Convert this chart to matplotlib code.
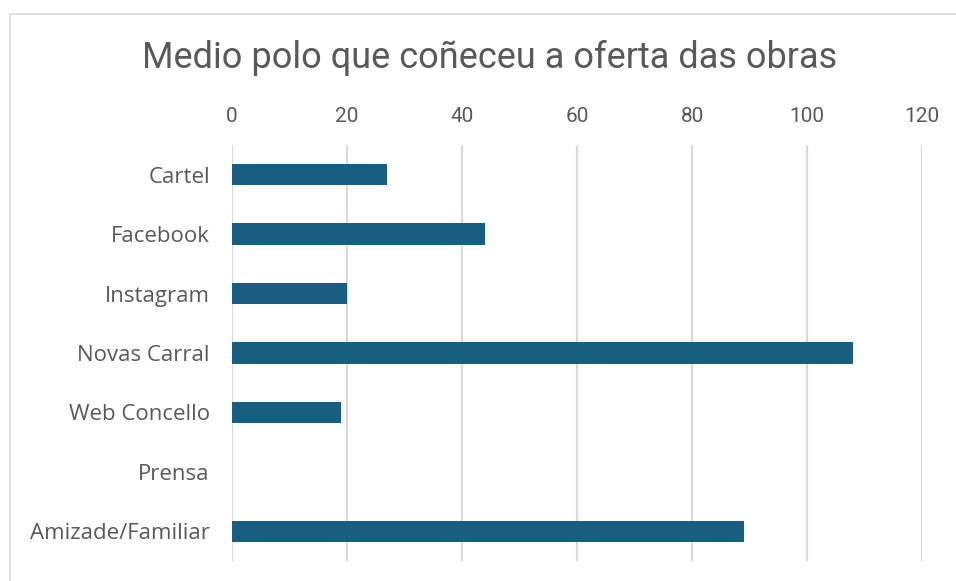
import matplotlib.pyplot as plt
from matplotlib.patches import Rectangle

categories = ['Cartel', 'Facebook', 'Instagram', 'Novas Carral',
              'Web Concello', 'Prensa', 'Amizade/Familiar']
values = [27, 44, 20, 108, 19, 0, 89]
xticks = [0, 20, 40, 60, 80, 100, 120]

BAR_COLOR = '#175e80'
TEXT_COLOR = '#595959'
GRID_COLOR = '#d9d9d9'

narrow = ['Roboto', 'DejaVu Sans']
regular = ['Open Sans', 'DejaVu Sans']

fig = plt.figure(figsize=(9.56, 5.81), dpi=100)
W, H = 956, 581
ax = fig.add_axes([232 / W, 1 - 561 / H, 690 / W, 416 / H])

ax.barh(range(len(categories)), values, height=0.36, color=BAR_COLOR, zorder=3)
ax.set_xlim(0, 120)
ax.set_ylim(len(categories) - 0.5, -0.5)
ax.set_xticks(xticks)
ax.set_yticks(range(len(categories)))
ax.set_yticklabels(categories, fontsize=16, color=TEXT_COLOR, family=regular)
ax.xaxis.tick_top()
ax.set_xticklabels([str(t) for t in xticks], fontsize=15, color=TEXT_COLOR, family=narrow)
ax.tick_params(axis='both', length=0)
ax.tick_params(axis='x', pad=14)
ax.tick_params(axis='y', pad=16)
ax.grid(axis='x', color=GRID_COLOR, linewidth=1.5, zorder=0)
for s in ax.spines.values():
    s.set_visible(False)

fig.text(490 / W, 1 - 58 / H, 'Medio polo que coñeceu a oferta das obras',
         ha='center', va='center', fontsize=26, color=TEXT_COLOR, family=narrow)

# chart-area border (partly cropped in the source)
fig.patches.append(Rectangle((10 / W, -0.01), 1.0, 1 - 14 / H + 0.01,
                             transform=fig.transFigure, fill=False,
                             edgecolor='#d9d9d9', linewidth=1.2))

fig.savefig('out.png', dpi=100)
